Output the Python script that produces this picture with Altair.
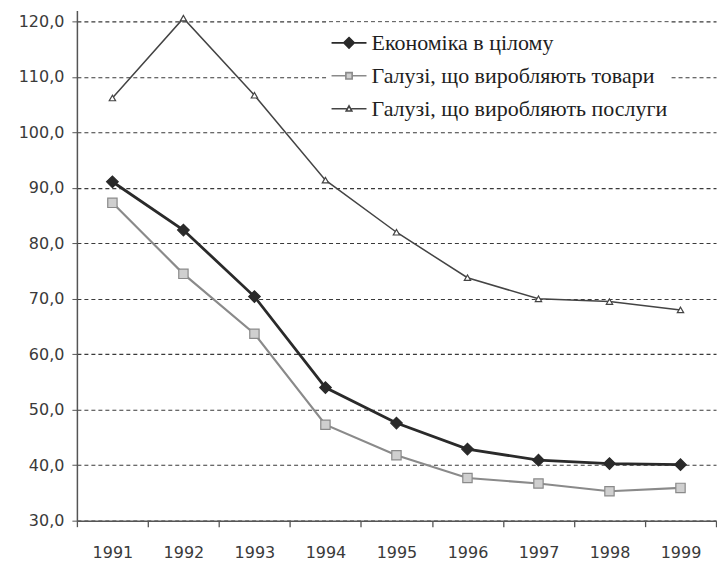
import altair as alt
import pandas as pd

years = ["1991", "1992", "1993", "1994", "1995", "1996", "1997", "1998", "1999"]
series_names = [
    "Економіка в цілому",
    "Галузі, що виробляють товари",
    "Галузі, що виробляють послуги",
]
economy = [91.1, 82.4, 70.4, 54.0, 47.6, 42.9, 40.9, 40.3, 40.1]
goods = [87.3, 74.5, 63.7, 47.3, 41.8, 37.7, 36.7, 35.3, 35.9]
services = [106.2, 120.6, 106.7, 91.4, 82.0, 73.8, 70.0, 69.5, 68.0]
y_ticks = [30, 40, 50, 60, 70, 80, 90, 100, 110, 120]

rows = []
for name, vals in zip(series_names, [economy, goods, services]):
    for yr, v in zip(years, vals):
        rows.append({"year": yr, "series": name, "value": v})
df = pd.DataFrame(rows)

stroke_cols = ["#2a2a2a", "#8a8a8a", "#444444"]
fill_cols = ["#2a2a2a", "#cfcfcf", "#ffffff"]
line_widths = [2.8, 1.5, 1.8]
point_shapes = ["diamond", "square", "triangle-up"]
legend_paths = [
    "M-1,0H1M0,-0.3L0.3,0L0,0.3L-0.3,0Z",
    "M-1,0H-0.18M0.18,0H1M-0.18,-0.18H0.18V0.18H-0.18Z",
    "M-1,0H-0.14M0.14,0H1M0,-0.16L0.16,0.13L-0.16,0.13Z",
]

x_enc = alt.X(
    "year:N",
    sort=years,
    scale=alt.Scale(type="band", paddingInner=0, paddingOuter=0),
    axis=alt.Axis(
        title=None,
        labelAngle=0,
        tickBand="extent",
        grid=False,
        tickSize=6,
        labelPadding=18,
        labelFont="DejaVu Sans",
        labelFontSize=16,
        labelColor="#3a3a3a",
        domainColor="#555555",
        domainWidth=1.5,
        tickColor="#555555",
        tickWidth=1.3,
    ),
)
y_enc = alt.Y(
    "value:Q",
    scale=alt.Scale(domain=[30, 122], nice=False, zero=False),
    axis=alt.Axis(
        title=None,
        values=y_ticks,
        labelExpr="replace(format(datum.value, '.1f'), '.', ',')",
        grid=True,
        gridDash=[4, 3],
        gridColor="#3a3a3a",
        gridWidth=1.1,
        tickSize=5,
        labelPadding=8,
        labelFont="DejaVu Sans",
        labelFontSize=16,
        labelColor="#3a3a3a",
        domainColor="#555555",
        domainWidth=1.5,
        tickColor="#555555",
    ),
)

base = alt.Chart(df)

lines = base.mark_line().encode(
    x=x_enc,
    y=y_enc,
    stroke=alt.Stroke("series:N", scale=alt.Scale(domain=series_names, range=stroke_cols), legend=None),
    strokeWidth=alt.StrokeWidth("series:N", scale=alt.Scale(domain=series_names, range=line_widths), legend=None),
)

points = base.mark_point(filled=False, strokeWidth=1.2, opacity=1).encode(
    x=x_enc,
    y=y_enc,
    shape=alt.Shape("series:N", scale=alt.Scale(domain=series_names, range=point_shapes), legend=None),
    stroke=alt.Stroke("series:N", scale=alt.Scale(domain=series_names, range=stroke_cols), legend=None),
    fill=alt.Fill("series:N", scale=alt.Scale(domain=series_names, range=fill_cols), legend=None),
    size=alt.Size("series:N", scale=alt.Scale(domain=series_names, range=[135, 40, 34]), legend=None),
)

legend_layer = base.transform_filter("datum.value < -1000").mark_point(
    filled=False, strokeWidth=1.6, opacity=1
).encode(
    x=x_enc,
    y=y_enc,
    shape=alt.Shape(
        "series:N",
        scale=alt.Scale(domain=series_names, range=legend_paths),
        legend=alt.Legend(
            title=None,
            orient="none",
            legendX=252,
            legendY=12,
            padding=2,
            fillColor="white",
            strokeColor="white",
            symbolSize=1225,
            symbolStrokeWidth=1.6,
            symbolOpacity=1,
            labelFont="Liberation Serif",
            labelFontSize=22,
            labelColor="#1e1e1e",
            labelOffset=4,
            rowPadding=3,
            labelLimit=400,
        ),
    ),
    stroke=alt.Stroke("series:N", scale=alt.Scale(domain=series_names, range=stroke_cols)),
    fill=alt.Fill("series:N", scale=alt.Scale(domain=series_names, range=fill_cols)),
)

chart = (
    alt.layer(lines, points, legend_layer)
    .resolve_scale(shape="independent", stroke="independent", fill="independent", size="independent", strokeWidth="independent")
    .resolve_legend(shape="independent", stroke="independent", fill="independent")
    .properties(
        width=640,
        height=511,
        padding={"left": 10, "top": 2, "right": 0, "bottom": 2},
        background="white",
    )
    .configure_view(stroke=None)
)

chart.save("out.html", embed_options={"renderer": "svg", "actions": False})
